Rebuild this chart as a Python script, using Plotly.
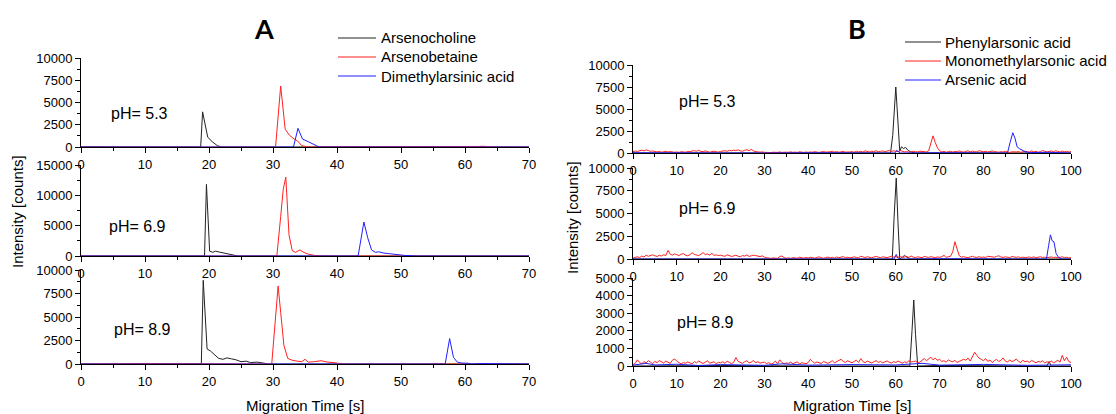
import numpy as np
import plotly.graph_objects as go

# ---------------- Panel A data (migration time [s], intensity [counts]) -------------
A_names = ["Arsenocholine", "Arsenobetaine", "Dimethylarsinic acid"]
pH_labels = ["pH= 5.3", "pH= 6.9", "pH= 8.9"]

# pH 5.3
A1_black_t = [0, 5, 10, 15, 18.7, 19.0, 19.8, 20.5, 21.3, 22.0, 25, 30, 40, 50, 60, 70]
A1_black_v = [20, 0, 30, 0, 0, 3950, 1100, 600, 150, 0, 30, 0, 20, 0, 30, 0]
A1_red_t = [0, 10, 20, 30.4, 31.2, 31.9, 32.6, 33.3, 33.8, 34.5, 35.5, 40, 50, 62, 63, 64, 70]
A1_red_v = [0, 30, 0, 0, 6850, 2000, 1300, 900, 700, 150, 0, 20, 0, 60, 80, 0, 0]
A1_blue_t = [0, 20, 33.2, 33.9, 34.6, 35.5, 36.5, 37.2, 40, 50, 60, 70]
A1_blue_v = [0, 0, 0, 2100, 900, 600, 250, 0, 0, 30, 0, 0]

# pH 6.9
A2_black_t = [0, 10, 19.3, 19.6, 20.1, 20.6, 21.0, 21.6, 22.3, 23.0, 23.8, 24.5, 30, 50, 70]
A2_black_v = [0, 20, 0, 11800, 800, 600, 800, 650, 500, 350, 150, 0, 0, 0, 0]
A2_red_t = [0, 20, 30.6, 31.2, 31.6, 32.0, 32.5, 33.0, 33.5, 34.2, 34.8, 35.5, 36.5, 38, 50, 70]
A2_red_v = [0, 0, 0, 6500, 11000, 13000, 3500, 900, 600, 1000, 600, 300, 100, 0, 0, 0]
A2_blue_t = [0, 30, 43.3, 44.2, 44.8, 45.4, 46.0, 46.5, 47.2, 48.0, 49.0, 50.5, 52.5, 60, 70]
A2_blue_v = [0, 0, 0, 5600, 3000, 1000, 600, 700, 500, 400, 250, 100, 0, 0, 0]

# pH 8.9
A3_black_t = [0, 10, 18.8, 19.1, 19.7, 20.2, 20.8, 21.5, 22.2, 22.8, 23.5, 24.2, 25.0, 25.8,
              26.5, 27.5, 28.5, 29.2, 35, 50, 70]
A3_black_v = [0, 30, 0, 8900, 1600, 1400, 1000, 600, 500, 650, 550, 450, 250, 300,
              150, 200, 100, 0, 0, 0, 0]
A3_red_t = [0, 10, 29.8, 30.3, 30.8, 31.2, 31.7, 32.3, 33.0, 33.8, 34.5, 35.0, 35.5, 36.5,
            37.5, 38.5, 39.5, 40.8, 50, 70]
A3_red_v = [0, 50, 0, 4000, 8300, 5500, 2000, 600, 400, 300, 250, 500, 200, 250,
            350, 200, 150, 0, 0, 0]
A3_blue_t = [0, 30, 56.9, 57.6, 58.2, 58.8, 59.5, 60.5, 61, 62.5, 70]
A3_blue_v = [0, 0, 0, 2700, 700, 200, 100, 80, 0, 50, 0]

# ---------------- Panel B data ------------------------------------------------------
B_names = ["Phenylarsonic acid", "Monomethylarsonic acid", "Arsenic acid"]
B_red_t = [i * 0.5 for i in range(201)]  # sampling times of the red electropherograms

# pH 5.3
B1_red_v = [150, 220, 180, 260, 320, 240, 350, 280, 190, 230, 160, 120, 180, 90, 140, 200, 110, 170, 130, 80,
            120, 60, 150, 110, 90, 170, 140, 230, 260, 200, 310, 180, 150, 240, 120, 90, 160, 200, 140, 110,
            180, 230, 260, 190, 300, 250, 330, 280, 360, 240, 200, 310, 380, 260, 420, 230, 150, 120, 90, 130,
            80, 60, 110, 50, 90, 40, 70, 120, 60, 90, 50, 80, 130, 70, 100, 60, 140, 90, 60, 110,
            70, 120, 90, 150, 80, 60, 130, 170, 100, 80, 140, 200, 110, 160, 90, 130, 180, 100, 70, 120,
            150, 90, 200, 130, 180, 110, 240, 160, 120, 200, 170, 260, 140, 190, 230, 150, 210, 280, 180, 250,
            200, 150, 280, 180, 120, 160, 90, 130, 200, 150, 130, 210, 160, 180, 120, 250, 1100, 1950, 1200, 600,
            250, 120, 180, 90, 150, 200, 110, 170, 140, 230, 160, 100, 190, 250, 130, 210, 170, 120, 260, 180,
            140, 200, 110, 160, 230, 170, 130, 90, 150, 120, 180, 100, 60, 140, 90, 120, 170, 80, 130, 200,
            150, 110, 240, 130, 180, 90, 160, 280, 200, 120, 170, 230, 140, 260, 180, 110, 220, 150, 190, 120,
            150]
B1_black_t = [0, 10, 20, 30, 40, 50, 58.8, 59.3, 60.0, 60.5, 60.9, 61.3, 61.8, 62.2, 62.8, 63.5, 64.5,
              70, 80, 90, 100]
B1_black_v = [0, 20, 0, 30, 0, 20, 0, 2000, 7500, 3000, 200, 700, 500, 650, 300, 100, 0,
              20, 0, 30, 0]
B1_blue_t = [0, 10, 20, 30, 40, 50, 59.8, 60.2, 61, 70, 80, 85.5, 86.1, 86.7, 87.2, 87.7, 88.2, 88.8,
             89.5, 90.5, 95, 100]
B1_blue_v = [30, 0, 40, 0, 30, 0, 0, 300, 0, 30, 0, 0, 1200, 2300, 1700, 700, 500, 300,
             150, 50, 80, 0]

# pH 6.9
B2_red_v = [100, 180, 250, 150, 320, 220, 420, 300, 380, 460, 350, 280, 400, 330, 470, 380, 950, 520, 430, 560,
            470, 380, 520, 600, 420, 350, 480, 680, 500, 420, 380, 520, 700, 480, 560, 430, 620, 400, 450, 380,
            420, 350, 300, 460, 380, 280, 340, 420, 300, 250, 380, 320, 450, 280, 350, 420, 380, 300, 260, 350,
            200, 150, 80, 60, 120, 100, 70, 280, 330, 150, 90, 120, 60, 150, 100, 80, 200, 120, 90, 160,
            110, 200, 150, 90, 170, 240, 130, 80, 160, 210, 120, 180, 100, 220, 150, 190, 260, 140, 200, 120,
            170, 230, 180, 140, 300, 210, 160, 250, 190, 130, 220, 280, 200, 160, 240, 190, 150, 230, 300, 200,
            250, 180, 300, 150, 220, 280, 170, 330, 200, 160, 240, 190, 150, 280, 210, 170, 260, 200, 140, 230,
            190, 250, 400, 180, 220, 300, 800, 1900, 1100, 350, 200, 260, 180, 150, 230, 300, 200, 170, 250, 180,
            220, 160, 300, 240, 180, 200, 280, 360, 220, 170, 240, 200, 150, 270, 210, 180, 230, 160, 200, 140,
            180, 220, 150, 240, 130, 190, 250, 170, 200, 140, 180, 230, 160, 200, 130, 170, 240, 150, 190, 120,
            160]
B2_black_t = [0, 20, 40, 59.2, 59.6, 60.1, 60.5, 60.9, 61.5, 62.0, 62.5, 63.2, 70, 100]
B2_black_v = [0, 0, 0, 0, 4500, 8900, 4000, 0, 200, 400, 200, 0, 0, 0]
B2_blue_t = [0, 20, 40, 59.6, 60.1, 60.6, 70, 90, 94.4, 94.9, 95.3, 95.7, 96.1, 96.6, 97.2, 98, 100]
B2_blue_v = [0, 30, 0, 0, 500, 0, 30, 0, 0, 1500, 2650, 2000, 1900, 600, 150, 0, 0]

# pH 8.9
B3_red_v = [80, 150, 350, 200, 120, 250, 180, 300, 220, 140, 260, 190, 310, 230, 170, 280, 210, 150, 330, 400,
            270, 180, 120, 200, 150, 230, 170, 120, 250, 180, 280, 200, 140, 220, 300, 160, 190, 240, 130, 210,
            180, 240, 150, 280, 200, 130, 220, 480, 260, 200, 150, 240, 300, 180, 220, 320, 180, 250, 160, 200,
            220, 140, 190, 100, 160, 280, 130, 350, 200, 120, 180, 150, 220, 130, 170, 240, 110, 190, 160, 130,
            200, 380, 250, 160, 230, 180, 140, 260, 200, 150, 220, 300, 180, 240, 280, 380, 260, 200, 300, 230,
            180, 260, 330, 200, 420, 250, 190, 280, 230, 170, 240, 310, 200, 260, 180, 230, 290, 210, 170, 250,
            200, 280, 220, 160, 240, 190, 300, 230, 250, 280, 180, 220, 330, 420, 300, 380, 500, 350, 450, 320,
            380, 260, 300, 220, 350, 280, 240, 320, 200, 260, 300, 380, 330, 450, 280, 520, 780, 600, 450, 380,
            300, 420, 260, 340, 200, 300, 380, 250, 320, 460, 280, 220, 350, 250, 300, 400, 260, 200, 330, 240,
            280, 200, 320, 250, 180, 260, 220, 300, 170, 240, 200, 280, 180, 250, 320, 220, 600, 300, 500, 250,
            200]
B3_black_t = [0, 20, 40, 62, 63.2, 63.7, 64.1, 64.5, 65.0, 70, 94.5, 95, 95.5, 100]
B3_black_v = [0, 30, 0, 0, 0, 2000, 3750, 1800, 0, 30, 0, 250, 0, 0]
B3_blue_t = [0, 3, 5, 10, 15, 20, 30, 34, 40, 50, 60, 66, 70, 80, 90, 100]
B3_blue_v = [50, 150, 60, 100, 30, 80, 40, 120, 50, 80, 60, 150, 50, 90, 40, 70]

# y-axis ranges / tick steps per row
A_yrange = [10000, 15000, 10000]
A_ydtick = [2500, 5000, 2500]
B_yrange = [10000, 10000, 5000]
B_ydtick = [2500, 2500, 1000]

# ---------------- Figure --------------------------------------------------------------
W, H = 1116, 414
colors = ["#222222", "#ff2020", "#2020ff"]
FONT = "Liberation Sans, Arial, sans-serif"

def px_x(p):
    return p / W

def px_y(p):
    return 1 - p / H

# domains (pixels)
A_x = [81, 529]
B_x = [633, 1071]
A_rows = [(58, 147), (165, 256), (270, 364)]
B_rows = [(65, 153), (168, 259), (278, 366)]

fig = go.Figure()

A_data = [
    [(A1_black_t, A1_black_v), (A1_red_t, A1_red_v), (A1_blue_t, A1_blue_v)],
    [(A2_black_t, A2_black_v), (A2_red_t, A2_red_v), (A2_blue_t, A2_blue_v)],
    [(A3_black_t, A3_black_v), (A3_red_t, A3_red_v), (A3_blue_t, A3_blue_v)],
]
B_data = [
    [(B1_black_t, B1_black_v), (B_red_t, B1_red_v), (B1_blue_t, B1_blue_v)],
    [(B2_black_t, B2_black_v), (B_red_t, B2_red_v), (B2_blue_t, B2_blue_v)],
    [(B3_black_t, B3_black_v), (B_red_t, B3_red_v), (B3_blue_t, B3_blue_v)],
]

layout = {}
axis_idx = 0
pH_pos_A = [(9.2, 3800), (8.8, 4800), (9.6, 3650)]
pH_pos_B = [(17.0, 5900), (17.0, 5600), (16.6, 2450)]
annotations = []
shapes = []

def add_axes(i, xdom, ydom_px, xmax, xdtick, ymax, ydtick):
    sfx = "" if i == 1 else str(i)
    common_tick = dict(showline=True, linecolor="black", linewidth=1, ticks="outside",
                       ticklen=5, tickwidth=1, tickcolor="black", showgrid=False, zeroline=False,
                       tickfont=dict(family=FONT, size=13, color="black"), mirror=False,
                       automargin=False, tickformat="d")
    layout["xaxis" + sfx] = dict(domain=[px_x(xdom[0]), px_x(xdom[1])], range=[0, xmax],
                                 dtick=xdtick, tick0=0, anchor="y" + sfx,
                                 minor=dict(ticks="outside", ticklen=3, dtick=xdtick / 2,
                                            tickcolor="black"),
                                 **common_tick)
    layout["yaxis" + sfx] = dict(domain=[px_y(ydom_px[1]), px_y(ydom_px[0])], range=[0, ymax],
                                 dtick=ydtick, tick0=0, anchor="x" + sfx,
                                 minor=dict(ticks="outside", ticklen=3, dtick=ydtick / 2,
                                            tickcolor="black"),
                                 **common_tick)
    return sfx

for r in range(3):
    axis_idx += 1
    sfx = add_axes(axis_idx, A_x, A_rows[r], 70, 10, A_yrange[r], A_ydtick[r])
    for k, (t, v) in enumerate(A_data[r]):
        fig.add_trace(go.Scatter(x=t, y=v, mode="lines", name=A_names[k],
                                 line=dict(color=colors[k], width=1),
                                 xaxis="x" + sfx, yaxis="y" + sfx, showlegend=False))
    annotations.append(dict(x=pH_pos_A[r][0], y=pH_pos_A[r][1], xref="x" + sfx, yref="y" + sfx,
                            text=pH_labels[r], showarrow=False, xanchor="center",
                            yanchor="middle",
                            font=dict(family=FONT, size=16, color="black")))

for r in range(3):
    axis_idx += 1
    sfx = add_axes(axis_idx, B_x, B_rows[r], 100, 10, B_yrange[r], B_ydtick[r])
    for k, (t, v) in enumerate(B_data[r]):
        fig.add_trace(go.Scatter(x=t, y=v, mode="lines", name=B_names[k],
                                 line=dict(color=colors[k], width=1),
                                 xaxis="x" + sfx, yaxis="y" + sfx, showlegend=False))
    annotations.append(dict(x=pH_pos_B[r][0], y=pH_pos_B[r][1], xref="x" + sfx, yref="y" + sfx,
                            text=pH_labels[r], showarrow=False, xanchor="center",
                            yanchor="middle",
                            font=dict(family=FONT, size=16, color="black")))

# legends (line sample + real text), one per panel
def add_legend(names, x_line0, x_line1, x_text, rows):
    for k, name in enumerate(names):
        yy = px_y(rows[k])
        shapes.append(dict(type="line", xref="paper", yref="paper", x0=px_x(x_line0),
                           x1=px_x(x_line1), y0=yy, y1=yy,
                           line=dict(color=colors[k], width=1)))
        annotations.append(dict(x=px_x(x_text), y=yy, xref="paper", yref="paper", text=name,
                                showarrow=False, xanchor="left", yanchor="middle",
                                font=dict(family=FONT, size=15, color="black")))

add_legend(A_names, 338, 376, 379, [38, 57, 76])
add_legend(B_names, 905, 941, 943, [42, 61, 80])

# panel letters
annotations.append(dict(x=px_x(264), y=px_y(29), xref="paper", yref="paper", text="<b>A</b>",
                        showarrow=False, xanchor="center", yanchor="middle",
                        font=dict(family="Lato, Open Sans, sans-serif", size=27, color="black")))
annotations.append(dict(x=px_x(857), y=px_y(29), xref="paper", yref="paper", text="<b>B</b>",
                        showarrow=False, xanchor="center", yanchor="middle",
                        font=dict(family="Lato, Open Sans, sans-serif", size=27, color="black")))
# axis titles
for xc in [(A_x[0] + A_x[1]) / 2, (B_x[0] + B_x[1]) / 2]:
    annotations.append(dict(x=px_x(xc), y=px_y(405), xref="paper", yref="paper",
                            text="Migration Time [s]", showarrow=False,
                            xanchor="center", yanchor="middle",
                            font=dict(family=FONT, size=15, color="black")))
for xc, yc in [(17, 212), (572, 218)]:
    annotations.append(dict(x=px_x(xc), y=px_y(yc), xref="paper", yref="paper",
                            text="Intensity [counts]", showarrow=False, textangle=-90,
                            xanchor="center", yanchor="middle",
                            font=dict(family=FONT, size=15, color="black")))

fig.update_layout(
    width=W, height=H, margin=dict(l=0, r=0, t=0, b=0, autoexpand=False),
    paper_bgcolor="white", plot_bgcolor="white",
    annotations=annotations, shapes=shapes, showlegend=False,
    **layout,
)

fig.write_html("out.html", config={"displayModeBar": False},
               post_script="document.body.style.margin='0px';")
